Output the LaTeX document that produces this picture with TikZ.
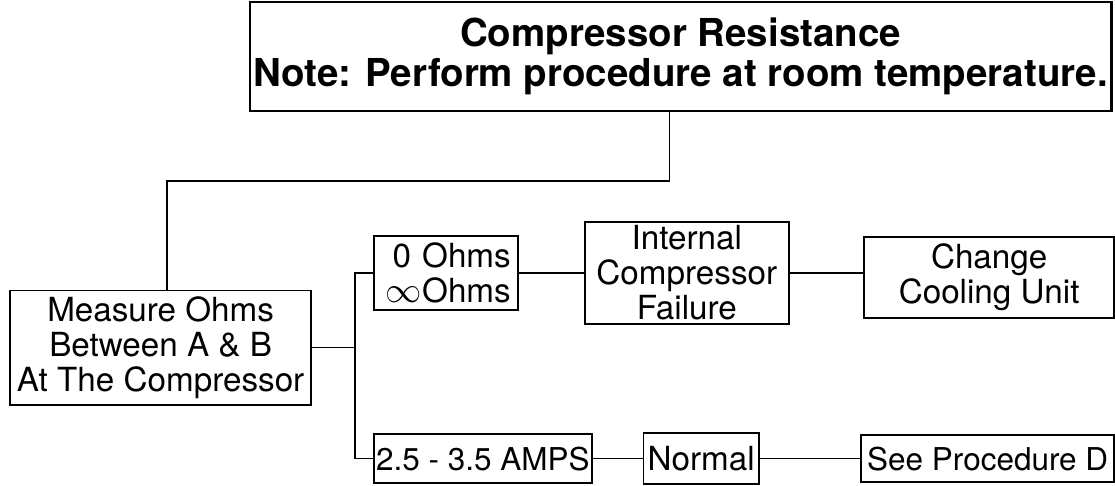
\documentclass[tikz,border=0pt]{standalone}
\usepackage{amsmath}
\usepackage{amssymb}
\usepackage{fontspec}
\setmainfont{TeX Gyre Heros}
\usetikzlibrary{positioning, calc}

\begin{document}
\begin{tikzpicture}[
						node distance=1.0cm,
						stepbox/.style={rectangle, draw, line width=1.1pt, inner sep=2pt, align=center, font=\fontsize{19}{20}\selectfont},
						slimbox/.style={stepbox, inner xsep=0.5pt, font=\fontsize{18}{20}\selectfont},
						titlebox/.style={rectangle, draw, line width=1.3pt, inner sep=2pt, minimum width=17.26cm, minimum height=2.2cm, align=center, font=\bfseries\fontsize{22}{23}\selectfont},
						line/.style={draw, line width=0.9pt, color=black}
						]
						
						\node [stepbox, minimum width=6.06cm, minimum height=2.3cm] (measure) {Measure Ohms\\Between A \& B\\At The Compressor};
						\node [titlebox, above=3.56cm of measure.north west, anchor=south west, xshift=4.82cm] (title) {Compressor Resistance\\Note: Perform procedure at room temperature.};
						
						\node [stepbox, text width=2.6cm, align=right, minimum width=2.9cm, minimum height=1.5cm, right=1.22cm of measure, yshift=1.5cm] (ohms) {0 Ohms\\{\fontsize{21}{19}\selectfont$\infty$}Ohms};
						\node [stepbox, minimum width=4.1cm, minimum height=2.02cm, right=1.3cm of ohms] (failure) {Internal\\Compressor\\Failure};
						\node [stepbox, minimum width=5.02cm, minimum height=1.64cm, right=1.48cm of failure, yshift=-0.09cm] (change) {Change\\Cooling Unit};
						
						\node [slimbox, minimum width=4.38cm, minimum height=1.0cm, below=2.44cm of ohms.south west, anchor=north west] (amps) {2.5 - 3.5 AMPS};
						\node [stepbox, minimum width=2.32cm, minimum height=1.04cm, right=1.0cm of amps] (normal) {Normal};
						\node [slimbox, minimum width=5.08cm, minimum height=0.96cm, right=2.02cm of normal] (seeproc) {See Procedure D};
						
						\coordinate (drop) at ($(title.south west)+(8.46,-1.38)$);
						\coordinate (entry) at ($(measure.north)+(0.13,0)$);
						\draw [line] (drop |- title.south) -- (drop) -| (entry);
						
						\coordinate (fork) at ($(measure.east)+(0.86,0)$);
						\draw [line] (measure.east) -- (fork);
						\draw [line] (ohms.west) -| (fork) |- (amps.west);
						
						\draw [line] (ohms.east) -- (failure.west);
						\draw [line] (failure.east) -- (failure.east -| change.west);
						\draw [line] (amps.east) -- (normal.west);
						\draw [line] (normal.east) -- (seeproc.west);
						
						\useasboundingbox ($(measure.north west)+(-0.18,5.82)$) rectangle +(22.3,-9.74);
					\end{tikzpicture}
\end{document}
